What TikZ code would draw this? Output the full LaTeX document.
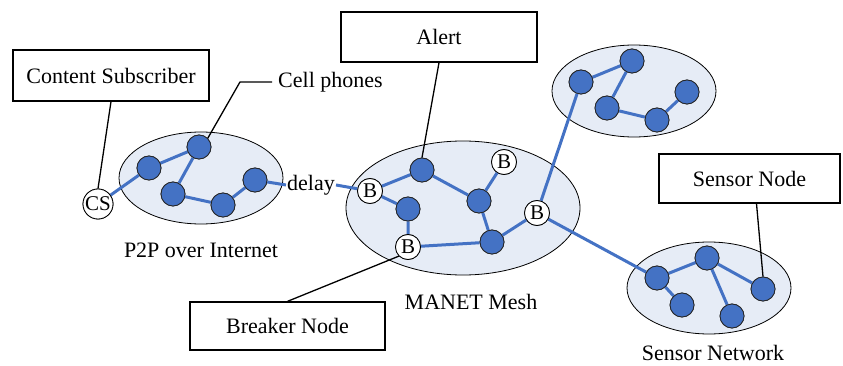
\documentclass[tikz,border=0pt]{standalone}
\usepackage{fontspec}
\setmainfont{Liberation Serif}
\usetikzlibrary{shapes.geometric}
\definecolor{nodeblue}{HTML}{4472C4}
\definecolor{cloudfill}{HTML}{E6ECF6}
\begin{document}
\begin{tikzpicture}[x=1pt,y=-1pt,
  font=\fontsize{22}{26}\selectfont,
  cloud/.style={ellipse, draw=black, line width=0.8pt, fill=cloudfill, inner sep=0},
  dev/.style={circle, draw=black!85, line width=0.8pt, fill=nodeblue, minimum size=24pt, inner sep=0},
  brk/.style={circle, draw=black, line width=0.8pt, fill=white, minimum size=25pt, inner sep=0, font=\fontsize{21}{24}\selectfont},
  link/.style={draw=nodeblue, line width=3pt},
  lead/.style={draw=black, line width=1.3pt},
  box/.style={rectangle, draw=black, line width=1.3pt, fill=white, inner sep=0}]
\useasboundingbox (0,0) rectangle (843,366);
% clouds
\node[cloud, minimum width=164pt, minimum height=92pt] (p2p) at (201,178) {};
\node[cloud, minimum width=234pt, minimum height=134pt] (manet) at (463,208) {};
\node[cloud, minimum width=164pt, minimum height=92pt] (top) at (634,91) {};
\node[cloud, minimum width=164pt, minimum height=92pt] (sens) at (709,288) {};
% P2P nodes
\node[dev] (n1) at (149,168) {};
\node[dev] (n2) at (199,147) {};
\node[dev] (n3) at (173,194) {};
\node[dev] (n4) at (223,205) {};
\node[dev] (n5) at (255,180) {};
\node[brk, minimum size=30pt] (cs) at (98,204) {CS};
\node[inner sep=1pt] (delay) at (311,185) {delay};
% MANET nodes
\node[brk] (b1) at (370,191) {B};
\node[dev] (m1) at (422,170) {};
\node[brk] (b2) at (504,162) {B};
\node[dev] (m2) at (479,201) {};
\node[dev] (m3) at (408,209) {};
\node[brk] (b3) at (408,247) {B};
\node[dev] (m4) at (492,242) {};
\node[brk] (b4) at (537,213) {B};
% top cloud nodes
\node[dev] (t1) at (581,82) {};
\node[dev] (t2) at (632,61) {};
\node[dev] (t3) at (607,108) {};
\node[dev] (t4) at (657,120) {};
\node[dev] (t5) at (687,92) {};
% sensor nodes
\node[dev] (s1) at (657,278) {};
\node[dev] (s2) at (707,258) {};
\node[dev] (s3) at (682,305) {};
\node[dev] (s4) at (732,316) {};
\node[dev] (s5) at (763,289) {};
% links
\path[link] (cs) -- (n1) (n1) -- (n2) (n2) -- (n3) (n3) -- (n4) (n4) -- (n5)
  (n5) -- (delay.west) (delay.east) -- (b1)
  (b1) -- (m1) (m1) -- (m2) (m2) -- (b2) (m2) -- (m4)
  (b1) -- (m3) (m3) -- (b3) (b3) -- (m4) (m4) -- (b4)
  (b4) -- (t1) (t1) -- (t2) (t2) -- (t3) (t3) -- (t4) (t4) -- (t5)
  (b4) -- (s1) (s1) -- (s2) (s1) -- (s3) (s2) -- (s4) (s2) -- (s5);
% redraw nodes on top of links
\foreach \n in {n1,n2,n3,n4,n5,m1,m2,m3,m4,t1,t2,t3,t4,t5,s1,s2,s3,s4,s5}
  \draw[black!85, line width=0.8pt, fill=nodeblue] (\n) circle (12pt);
\foreach \n in {b1,b2,b3,b4}
  \draw[black, line width=0.8pt, fill=white] (\n) circle (12.5pt) node[font=\fontsize{21}{24}\selectfont] {B};
\draw[black, line width=0.8pt, fill=white] (cs) circle (15pt) node[font=\fontsize{21}{24}\selectfont] {CS};
% boxes
\node[box, minimum width=196pt, minimum height=51pt] (csbox) at (111,75.5) {Content Subscriber};
\node[box, minimum width=196pt, minimum height=50pt] (alert) at (439,37) {Alert};
\node[box, minimum width=195pt, minimum height=48pt] (breaker) at (287.5,326) {Breaker Node};
\node[box, minimum width=181pt, minimum height=49pt] (sbox) at (749.5,178.5) {Sensor Node};
% labels
\node[anchor=west, inner sep=0] (cell) at (278,82) {Cell phones};
\coordinate (cpbend) at (240,82);
\node (p2plab) at (201,250) {P2P over Internet};
\node (manetlab) at (471,302) {MANET Mesh};
\node[anchor=base, inner sep=0] (senslab) at (713,360) {Sensor Network};
% leaders
\draw[lead] (csbox.south) -- (cs.north);
\draw[lead] (n2.north east) -- (cpbend) -- ([xshift=-6pt]cell.west);
\draw[lead] (alert.south) -- (m1.north);
\draw[lead] (b3.south west) -- (breaker.north);
\draw[lead] ([xshift=7pt]sbox.south) -- (s5.north);
\end{tikzpicture}
\end{document}
